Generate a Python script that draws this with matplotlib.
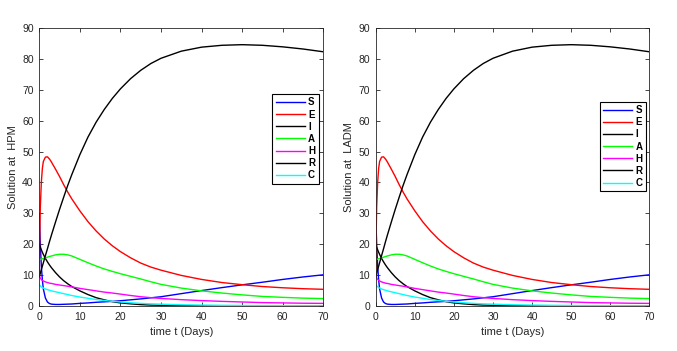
import matplotlib
matplotlib.use("Agg")
import matplotlib.pyplot as plt

plt.rcParams['font.family'] = ['Liberation Sans', 'DejaVu Sans']

# time grid (days)
t = [0, 0.1, 0.25, 0.5, 0.75, 1, 1.5, 2, 2.5, 3, 4, 5, 6, 7, 8, 10, 12, 14, 16, 18,
     20, 22.5, 25, 27.5, 30, 35, 40, 45, 50, 55, 60, 65, 70]

S = [30, 26, 20, 13, 8.5, 5.5, 2.6, 1.3, 0.8, 0.6, 0.5, 0.5, 0.55, 0.6, 0.65, 0.85, 1.0, 1.2, 1.35, 1.5,
     1.7, 2.0, 2.3, 2.65, 3.0, 4.0, 5.0, 5.95, 6.85, 7.7, 8.6, 9.4, 10.1]
E = [10, 22, 32, 40, 44.5, 46.8, 48.2, 48.3, 47.6, 46.6, 44.3, 41.9, 39.3, 36.9, 34.7, 30.8, 27.3, 24.3, 21.7, 19.5,
     17.6, 15.6, 13.9, 12.6, 11.6, 9.9, 8.6, 7.6, 6.9, 6.3, 5.9, 5.6, 5.4]
I = [20, 19.6, 19.0, 18.2, 17.4, 16.7, 15.4, 14.3, 13.3, 12.4, 10.8, 9.4, 8.2, 7.2, 6.3, 4.9, 3.7, 2.7, 2.0, 1.4,
     1.0, 0.7, 0.45, 0.3, 0.2, 0.1, 0.05, 0.03, 0.02, 0.02, 0.01, 0.01, 0.01]
A = [15, 15.05, 15.1, 15.2, 15.3, 15.4, 15.6, 15.8, 16.0, 16.2, 16.55, 16.75, 16.75, 16.55, 16.2, 15.1, 14.0, 12.95, 12.0, 11.2,
     10.45, 9.6, 8.75, 7.85, 7.0, 5.8, 4.9, 4.2, 3.6, 3.1, 2.8, 2.55, 2.4]
H = [10, 9.5, 9.0, 8.6, 8.3, 8.1, 7.8, 7.6, 7.4, 7.3, 7.0, 6.8, 6.6, 6.4, 6.2, 5.7, 5.3, 4.9, 4.5, 4.2,
     3.85, 3.4, 3.0, 2.7, 2.45, 2.05, 1.75, 1.5, 1.3, 1.1, 1.0, 0.9, 0.85]
R = [9.5, 9.9, 10.6, 11.8, 12.9, 14, 16.3, 18.5, 20.8, 23, 27.2, 31.3, 35.2, 39, 42.5, 49, 54.7, 59.5, 63.6, 67.2,
     70.3, 73.6, 76.3, 78.5, 80.2, 82.5, 83.8, 84.4, 84.6, 84.4, 83.9, 83.2, 82.3]
C = [7, 6.8, 6.5, 6.2, 6.0, 5.8, 5.5, 5.3, 5.1, 4.9, 4.6, 4.3, 4.0, 3.7, 3.4, 2.9, 2.5, 2.1, 1.8, 1.5,
     1.3, 1.05, 0.85, 0.7, 0.6, 0.4, 0.3, 0.22, 0.17, 0.13, 0.1, 0.08, 0.07]

series = [("S", S, "#0000ff"), ("E", E, "#ff0000"), ("I", I, "#000000"), ("A", A, "#00ff00"),
          ("H", H, "#ff00ff"), ("R", R, "#000000"), ("C", C, "#00ffff")]

ylabels = ["Solution at  HPM", "Solution at  LADM"]
xlabel = "time t (Days)"
xticks = [0, 10, 20, 30, 40, 50, 60, 70]
yticks = [0, 10, 20, 30, 40, 50, 60, 70, 80, 90]

W, H_px = 677, 351
fig = plt.figure(figsize=(W / 100, H_px / 100), dpi=100)

axes_px = [(39.3, 284.0), (375.7, 273.7)]
legend_anchor = [(318.5, 94.0), (646.0, 101.7)]
bottom_px, height_px = 45.0, 278.0

for k, (x0, w) in enumerate(axes_px):
    ax = fig.add_axes([x0 / W, bottom_px / H_px, w / W, height_px / H_px])
    for name, vals, col in series:
        ax.plot(t, vals, color=col, lw=1.0, label=name)
    ax.set_xlim(0, 70)
    ax.set_ylim(0, 90)
    ax.set_xticks(xticks)
    ax.set_yticks(yticks)
    ax.tick_params(direction='in', top=True, right=True, length=3, width=0.6,
                   labelsize=7.5, colors='#262626', pad=4)
    for sp in ax.spines.values():
        sp.set_color('#262626')
        sp.set_linewidth(0.6)
    ax.set_xlabel(xlabel, fontsize=8, color='#262626', labelpad=4)
    ax.set_ylabel(ylabels[k], fontsize=8, color='#262626', labelpad=3)
    lx, ly = legend_anchor[k]
    leg = ax.legend(loc='upper right', bbox_to_anchor=(lx / W, 1 - ly / H_px),
                    bbox_transform=fig.transFigure,
                    prop={'size': 7, 'weight': 'bold'}, frameon=True,
                    fancybox=False, edgecolor='#000000', framealpha=1,
                    handlelength=3.0, handletextpad=0.35, borderpad=0.35,
                    labelspacing=0.22, borderaxespad=0)
    leg.get_frame().set_linewidth(0.8)

fig.savefig("out.png", dpi=100)
